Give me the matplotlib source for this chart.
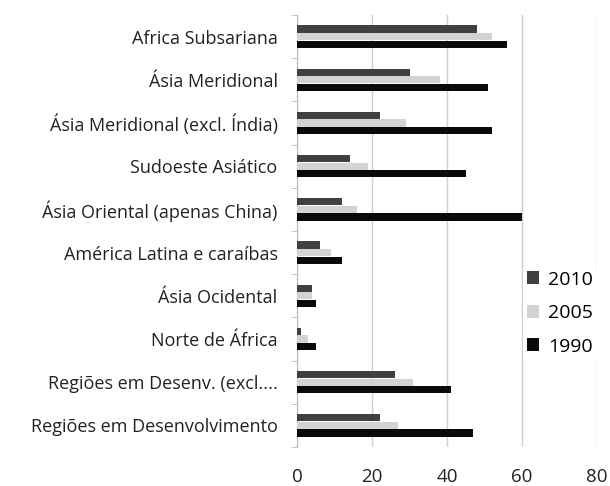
import numpy as np
import matplotlib
matplotlib.use('Agg')
import matplotlib.pyplot as plt
from matplotlib.ticker import FixedLocator

regions = ['Africa Subsariana', 'Ásia Meridional', 'Ásia Meridional (excl. Índia)',
           'Sudoeste Asiático', 'Ásia Oriental (apenas China)', 'América Latina e caraíbas',
           'Ásia Ocidental', 'Norte de África', 'Regiões em Desenv. (excl....',
           'Regiões em Desenvolvimento']
v2010 = [48, 30, 22, 14, 12, 6, 4, 1, 26, 22]
v2005 = [52, 38, 29, 19, 16, 9, 4, 3, 31, 27]
v1990 = [56, 51, 52, 45, 60, 12, 5, 5, 41, 47]
xticks = [0, 20, 40, 60, 80]

plt.rcParams['font.family'] = ['Open Sans', 'DejaVu Sans']

fig = plt.figure(figsize=(6.1, 4.86), dpi=100)
ax = fig.add_axes([297/610, 1 - 447/486, 300/610, 432/486])

y = np.arange(len(regions))
h = 0.165
series = [(v2010, '#404040', '2010', -0.175),
          (v2005, '#d3d3d3', '2005', 0.0),
          (v1990, '#0a0a0a', '1990', 0.175)]
for vals, col, lab, off in series:
    ax.barh(y + off, vals, height=h, color=col, label=lab, zorder=3)

ax.set_xlim(0, 80)
ax.set_ylim(len(regions) - 0.5, -0.5)
ax.set_yticks(y)
ax.set_yticklabels(regions, fontsize=13, color='#222222')
ax.tick_params(axis='y', length=0, pad=14)
ax.yaxis.set_minor_locator(FixedLocator(np.arange(-0.5, len(regions), 1)))
ax.tick_params(axis='y', which='minor', length=4, color='#bbbbbb', direction='out')

ax.set_xticks(xticks)
ax.tick_params(axis='x', length=0, labelsize=13.5, pad=15, colors='#222222')
ax.grid(axis='x', color='#d0d0d0', linewidth=1, zorder=0)
for s in ['top', 'right', 'bottom']:
    ax.spines[s].set_visible(False)
ax.spines['left'].set_color('#bbbbbb')

leg = ax.legend(loc='center left', bbox_to_anchor=(0.72, 0.31), frameon=True,
                fontsize=14, handlelength=0.65, handleheight=0.65,
                handletextpad=0.45, labelspacing=0.8, borderpad=0.2)
leg.get_frame().set_edgecolor('none')
leg.get_frame().set_facecolor('white')
leg.get_frame().set_alpha(1)
leg.set_zorder(5)

fig.savefig('out.png', dpi=100)
